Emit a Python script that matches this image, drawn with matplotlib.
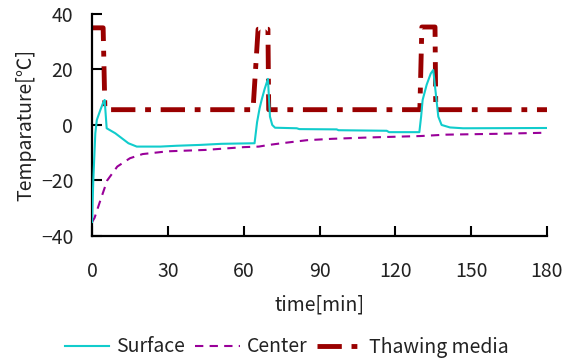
import matplotlib
matplotlib.use("Agg")
import matplotlib.pyplot as plt

plt.rcParams['font.family'] = ['Noto Sans CJK JP', 'DejaVu Sans']

surface_t = [0, 0.5, 1.3, 1.9, 3.3, 4.4, 5.0, 5.8, 9.2, 14.4, 17.7, 27, 33.5, 42.7, 51.3, 64.3,
             65.3, 66.3, 67.1, 68.3, 69.6, 70.4, 71.3, 72.4, 81, 82, 96.8, 97.5, 116.6, 117.5, 129.5,
             130.2, 130.8, 132.4, 134.0, 135.0, 137.0, 138.3, 141.6, 146.8, 180]
surface_v = [-35, -20, -3, 1.8, 5.4, 8, 9, -1.2, -3, -6.6, -7.8, -7.8, -7.5, -7.2, -6.8, -6.6,
             1, 6, 9, 13, 16.6, 3, 0, -1, -1.2, -1.5, -1.6, -1.9, -2.1, -2.6, -2.6,
             3, 9, 14.5, 18.5, 19.8, 3, 0, -0.9, -1.2, -1.1]

center_t = [0, 1, 3, 6, 10, 15, 20, 30, 45, 60, 66, 70, 75, 85, 95, 110, 130, 140, 160, 180]
center_v = [-35, -33.5, -28, -20, -15, -12, -10.5, -9.5, -9, -8, -7.8, -7.2, -6.6, -5.5,
            -5, -4.5, -4, -3.5, -3.2, -2.8]

media_t = [0, 4.4, 5.1, 63.7, 65.7, 69.6, 69.9, 129.7, 130.5, 135.7, 136.0, 180]
media_v = [35, 35, 5.5, 5.5, 34.5, 34.5, 5.5, 5.5, 35.3, 35.3, 5.5, 5.5]

xticks = [0, 30, 60, 90, 120, 150, 180]
yticks = [-40, -20, 0, 20, 40]
ytick_labels = ['\u221240', '\u221220', '0', '20', '40']

FS = 14
TXT = '#222222'

fig = plt.figure(figsize=(5.73, 3.58), dpi=100)
ax = fig.add_axes([0.1606, 0.341, 0.7940, 0.620])

ax.plot(surface_t, surface_v, color='#11cccc', lw=1.5, label='Surface', zorder=3)
ax.plot(center_t, center_v, color='#990099', lw=1.5, dashes=(4, 3), label='Center', zorder=2)
ax.plot(media_t, media_v, color='#990000', lw=3.5, dashes=(5, 2, 1.2, 2),
        label='Thawing media', zorder=1)

ax.set_xlim(0, 180)
ax.set_ylim(-40, 40)
ax.set_xticks(xticks)
ax.set_yticks(yticks)
ax.set_yticklabels(ytick_labels)
for s in ['top', 'right']:
    ax.spines[s].set_visible(False)
for s in ['left', 'bottom']:
    ax.spines[s].set_linewidth(1.6)
ax.tick_params(direction='in', length=7, width=1.5, labelsize=FS, labelcolor=TXT)
ax.tick_params(axis='x', pad=18)
ax.tick_params(axis='y', pad=13.5)

ax.set_xlabel('time[min]', fontsize=FS, color=TXT, labelpad=9)
ax.set_ylabel('Temparature[\u2103]', fontsize=FS, color=TXT, labelpad=3)

fig.legend(loc='center', bbox_to_anchor=(0.5, 1 - 347 / 358), ncol=3, frameon=False,
           fontsize=FS, handlelength=2.3, columnspacing=0.5, handletextpad=0.36,
           labelcolor=TXT, borderpad=0)

fig.savefig('out.png', dpi=100)
